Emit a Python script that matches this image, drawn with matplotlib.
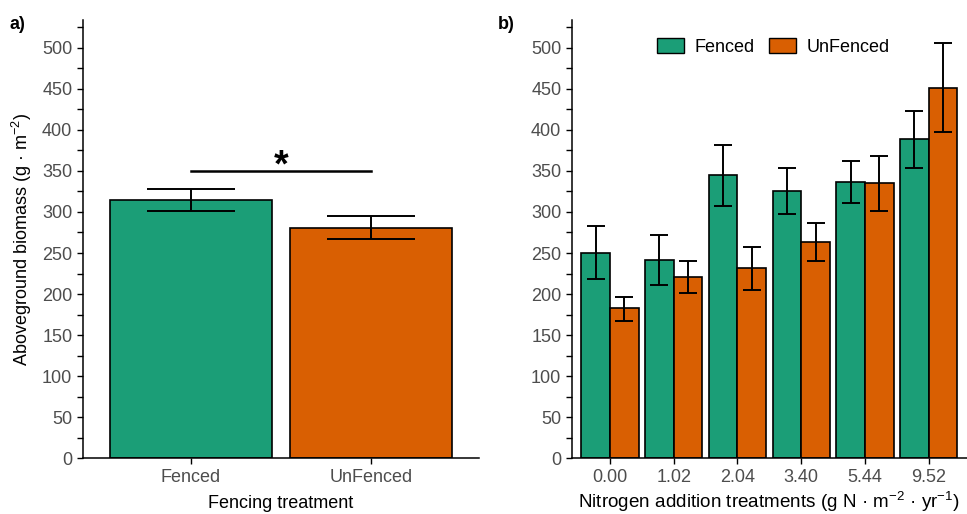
import matplotlib
matplotlib.use("Agg")
import matplotlib.pyplot as plt
from matplotlib.patches import Patch
from matplotlib.ticker import MultipleLocator
import numpy as np

plt.rcParams['font.family'] = ['Liberation Sans', 'DejaVu Sans']
plt.rcParams['mathtext.fontset'] = 'custom'
plt.rcParams['mathtext.rm'] = 'Liberation Sans'
plt.rcParams['mathtext.it'] = 'Liberation Sans:italic'

# ---- data ----
fence_cats = ["Fenced", "UnFenced"]
fence_mean = [314.5, 280.5]
fence_lo = [301.0, 266.5]
fence_hi = [327.5, 295.0]

n_labels = ["0.00", "1.02", "2.04", "3.40", "5.44", "9.52"]
fenced_mean = [250.5, 242.0, 345.0, 325.5, 337.0, 388.5]
fenced_lo = [218.0, 211.0, 307.5, 297.0, 311.0, 353.5]
fenced_hi = [283.0, 271.5, 381.0, 353.5, 362.5, 423.0]
unf_mean = [182.5, 220.5, 232.0, 263.5, 335.5, 451.5]
unf_lo = [167.5, 201.0, 205.5, 240.5, 301.5, 397.0]
unf_hi = [197.0, 240.0, 257.5, 286.0, 368.5, 505.5]

GREEN = "#1B9E77"
ORANGE = "#D95F02"
TICKC = "#4D4D4D"
YMAX = 533.7

fig = plt.figure(figsize=(9.67, 5.14), dpi=100)
ax1 = fig.add_axes([0.0855, 0.1084, 0.4098, 0.8526])
ax2 = fig.add_axes([0.5912, 0.1084, 0.4088, 0.8526])

def style(ax):
    for s in ["top", "right"]:
        ax.spines[s].set_visible(False)
    for s in ["left", "bottom"]:
        ax.spines[s].set_linewidth(1.1)
        ax.spines[s].set_color("black")
    ax.set_ylim(0, YMAX)
    ax.yaxis.set_major_locator(MultipleLocator(50))
    ax.yaxis.set_minor_locator(MultipleLocator(25))
    ax.tick_params(axis="both", which="both", length=4.5, width=1.0, color="black",
                   labelsize=13, labelcolor=TICKC, pad=3)

# ---- panel a ----
x1 = np.arange(1, len(fence_cats) + 1)
ax1.bar(x1, fence_mean, width=0.9, color=[GREEN, ORANGE], edgecolor="black", linewidth=1.2, zorder=2)
m = np.array(fence_mean)
ax1.errorbar(x1, m, yerr=[m - np.array(fence_lo), np.array(fence_hi) - m], fmt="none",
             ecolor="black", elinewidth=1.4, capsize=32, capthick=1.4, zorder=3)
ax1.set_xlim(0.4, 2.6)
ax1.set_xticks(x1)
ax1.set_xticklabels(fence_cats)
ax1.tick_params(axis="x", which="minor", length=0)
style(ax1)
ax1.set_xlabel("Fencing treatment", fontsize=13, labelpad=7)
ax1.set_ylabel("Aboveground biomass (g \u00b7 m$^{-2}$)", fontsize=13, labelpad=6)
ax1.plot([1, 2], [350, 350], color="black", linewidth=1.8, zorder=3)
ax1.text(1.5, 333, "*", fontsize=27, fontweight="bold", ha="center", va="bottom")

# ---- panel b ----
x2 = np.arange(1, len(n_labels) + 1)
w = 0.45
fm = np.array(fenced_mean)
um = np.array(unf_mean)
ax2.bar(x2 - w / 2, fm, width=w, color=GREEN, edgecolor="black", linewidth=1.2, zorder=2)
ax2.bar(x2 + w / 2, um, width=w, color=ORANGE, edgecolor="black", linewidth=1.2, zorder=2)
ax2.errorbar(x2 - w / 2, fm, yerr=[fm - np.array(fenced_lo), np.array(fenced_hi) - fm], fmt="none",
             ecolor="black", elinewidth=1.4, capsize=6.5, capthick=1.4, zorder=3)
ax2.errorbar(x2 + w / 2, um, yerr=[um - np.array(unf_lo), np.array(unf_hi) - um], fmt="none",
             ecolor="black", elinewidth=1.4, capsize=6.5, capthick=1.4, zorder=3)
ax2.set_xlim(0.4, 6.6)
ax2.set_xticks(x2)
ax2.set_xticklabels(n_labels)
ax2.tick_params(axis="x", which="minor", length=0)
style(ax2)
ax2.set_xlabel("Nitrogen addition treatments (g N \u00b7 m$^{-2}$ \u00b7 yr$^{-1}$)", fontsize=13.6, labelpad=3)

handles = [Patch(facecolor=GREEN, edgecolor="black", linewidth=1.0, label="Fenced"),
           Patch(facecolor=ORANGE, edgecolor="black", linewidth=1.0, label="UnFenced")]
ax2.legend(handles=handles, loc="upper center", bbox_to_anchor=(0.51, 0.995), ncol=2, frameon=False,
           fontsize=13, handlelength=1.5, handleheight=0.85, columnspacing=0.8, handletextpad=0.6)

fig.text(0.010, 0.953, "a)", fontsize=13, fontweight="bold", va="center")
fig.text(0.515, 0.953, "b)", fontsize=13, fontweight="bold", va="center")

fig.savefig("out.png", dpi=100)
